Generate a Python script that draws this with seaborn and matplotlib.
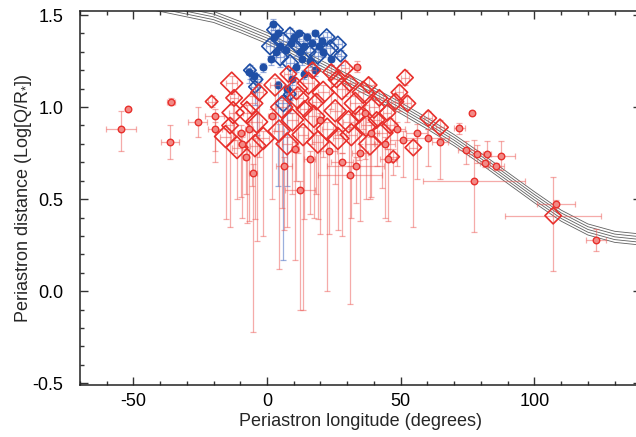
import numpy as np
import pandas as pd
import matplotlib
matplotlib.use("Agg")
import matplotlib.pyplot as plt
from matplotlib.ticker import MultipleLocator, FormatStrFormatter
import seaborn as sns

# ---------------- data ----------------
curve_lon = [-60, -50, -40, -30, -20, -10, 0, 10, 20, 30, 40, 50, 60, 70, 80, 90, 100, 110, 120, 130, 140]
curve_q1 = [1.62, 1.605, 1.58, 1.55, 1.52, 1.465, 1.405, 1.33, 1.255, 1.18, 1.105, 1.025, 0.94, 0.85, 0.75, 0.645, 0.54, 0.44, 0.365, 0.325, 0.31]
curve_q2 = [1.605, 1.59, 1.565, 1.535, 1.505, 1.45, 1.39, 1.315, 1.24, 1.165, 1.09, 1.01, 0.925, 0.835, 0.735, 0.63, 0.525, 0.425, 0.35, 0.31, 0.295]
curve_q3 = [1.59, 1.575, 1.55, 1.52, 1.49, 1.435, 1.375, 1.30, 1.225, 1.15, 1.075, 0.995, 0.91, 0.82, 0.72, 0.615, 0.51, 0.41, 0.335, 0.295, 0.28]
curve_q4 = [1.575, 1.56, 1.535, 1.505, 1.475, 1.42, 1.36, 1.285, 1.21, 1.135, 1.06, 0.98, 0.895, 0.805, 0.705, 0.60, 0.495, 0.395, 0.32, 0.28, 0.265]
curve_q5 = [1.56, 1.545, 1.52, 1.49, 1.46, 1.405, 1.345, 1.27, 1.195, 1.12, 1.045, 0.965, 0.88, 0.79, 0.69, 0.585, 0.48, 0.38, 0.305, 0.265, 0.25]

red_lon = [-54.6, -52.1, -36.0, -36.3, -25.9, -20.7, -19.6, -19.4, -13.2, -12.3, -12.7, -15.5, -11.2, -13.8, -9.7, -9.5,
           -7.5, -5.7, -3.9, -1.4, -5.2, -4.5, -6.8, -3.0, -7.8,
           3.0, 5.5, 4.5, 7.5, 9.5, 11.5, 13.5, 15.5, 17.5, 19.0, 21.0, 22.5, 24.0, 25.5, 26.5, 28.0, 29.2, 8.0,
           12.3, 10.5, 2.0, 16.0, 6.5, 18.5, 14.0, 23.0, 20.0,
           30.5, 31.5, 33.0, 34.5, 36.0, 37.0, 38.5, 40.0, 41.0, 42.0, 43.0, 45.0, 46.0, 47.2, 48.0, 49.5, 51.6,
           52.5, 54.7, 60.3, 64.7, 33.5, 34.7, 33.2, 30.9, 45.4, 51.0, 39.0, 44.0, 36.5, 48.5, 56.0, 28.0,
           60.1, 64.7, 71.9, 76.7, 74.3, 78.4, 77.5, 82.2, 87.5, 81.5, 85.8,
           108.0, 107.0, 123.0,
           26.0, 31.0, 38.0, 11.0, 17.0]
red_q = [0.88, 0.99, 1.03, 0.81, 0.92, 1.03, 0.95, 0.88, 1.13, 1.05, 0.97, 0.84, 0.78, 0.90, 0.86, 0.80,
         0.97, 1.02, 0.92, 0.83, 0.64, 0.79, 0.88, 1.08, 0.73,
         1.12, 1.00, 0.87, 0.80, 0.93, 1.05, 0.85, 1.13, 0.95, 0.81, 1.08, 0.88, 1.19, 0.98, 0.83, 1.10, 1.21, 1.18,
         0.55, 0.77, 0.95, 0.72, 0.68, 1.03, 0.99, 0.76, 0.93,
         0.92, 0.85, 1.02, 0.96, 1.08, 0.90, 0.80, 1.00, 0.93, 1.05, 0.86, 0.97, 0.90, 0.73, 1.03, 1.08, 1.16,
         1.02, 0.78, 0.94, 0.89, 1.22, 0.75, 0.68, 0.63, 0.72, 0.82, 0.86, 0.80, 0.97, 0.88, 0.86, 0.70,
         0.83, 0.81, 0.885, 0.967, 0.765, 0.744, 0.60, 0.744, 0.736, 0.695, 0.678,
         0.474, 0.41, 0.28,
         1.15, 1.13, 1.12, 1.10, 1.20]
red_lon_err = [5.5, 0.0, 1.5, 3.4, 3.5, 1.2, 3.7, 2.5, 2.0, 1.5, 1.5, 2.0, 2.0, 1.5, 1.5, 1.5,
               1.5, 2.0, 2.0, 2.0, 1.5, 2.0, 1.5, 1.5, 1.0,
               2.0, 2.0, 2.0, 2.0, 2.0, 2.0, 2.0, 2.0, 2.0, 2.0, 2.0, 2.0, 1.5, 2.0, 2.0, 2.0, 1.5, 1.5,
               5.6, 1.5, 1.5, 2.0, 3.0, 1.5, 1.5, 3.0, 1.5,
               2.0, 2.0, 2.0, 1.5, 2.0, 2.0, 2.0, 2.0, 1.5, 1.5, 2.0, 1.5, 1.5, 1.5, 1.5, 1.5, 1.5,
               1.5, 1.5, 1.5, 1.5, 1.0, 3.0, 10.6, 12.0, 3.0, 5.0, 3.0, 4.0, 2.0, 3.0, 4.0, 4.0,
               8.0, 3.0, 2.0, 0.5, 3.0, 3.0, 19.0, 1.5, 5.3, 2.0, 3.0,
               7.0, 18.0, 3.8,
               2.0, 2.0, 2.0, 1.5, 1.5]
red_q_err_lo = [0.12, 0.0, 0.02, 0.09, 0.08, 0.03, 0.25, 0.12, 0.06, 0.30, 0.15, 0.45, 0.28, 0.55, 0.35, 0.40,
                0.60, 0.45, 0.65, 0.53, 0.86, 0.40, 0.50, 0.35, 0.20,
                0.25, 0.55, 0.75, 0.45, 0.40, 0.30, 0.95, 0.30, 0.55, 0.42, 0.35, 0.88, 0.20, 0.40, 0.50, 0.35, 0.15, 0.20,
                0.65, 0.60, 0.45, 0.30, 0.35, 0.50, 0.60, 0.45, 0.62,
                0.30, 0.45, 0.35, 0.25, 0.20, 0.40, 0.30, 0.20, 0.25, 0.15, 0.30, 0.20, 0.20, 0.10, 0.15, 0.10, 0.04,
                0.10, 0.43, 0.06, 0.06, 0.03, 0.37, 0.20, 0.70, 0.34, 0.20, 0.35, 0.40, 0.25, 0.20, 0.25, 0.40,
                0.15, 0.20, 0.03, 0.01, 0.075, 0.05, 0.28, 0.05, 0.077, 0.02, 0.02,
                0.02, 0.30, 0.06,
                0.30, 0.25, 0.20, 0.50, 0.40]
red_q_err_hi = [0.10, 0.0, 0.02, 0.09, 0.08, 0.03, 0.04, 0.04, 0.04, 0.04, 0.04, 0.04, 0.04, 0.04, 0.04, 0.04,
                0.04, 0.04, 0.04, 0.04, 0.05, 0.04, 0.04, 0.05, 0.04,
                0.04, 0.04, 0.04, 0.04, 0.04, 0.04, 0.04, 0.04, 0.04, 0.04, 0.04, 0.04, 0.04, 0.04, 0.04, 0.04, 0.04, 0.04,
                0.05, 0.04, 0.04, 0.04, 0.05, 0.04, 0.04, 0.05, 0.04,
                0.04, 0.04, 0.04, 0.04, 0.04, 0.04, 0.04, 0.04, 0.04, 0.04, 0.04, 0.04, 0.04, 0.04, 0.04, 0.04, 0.04,
                0.04, 0.04, 0.04, 0.04, 0.03, 0.05, 0.05, 0.05, 0.05, 0.05, 0.04, 0.04, 0.04, 0.04, 0.05, 0.05,
                0.05, 0.05, 0.03, 0.01, 0.05, 0.05, 0.22, 0.07, 0.077, 0.02, 0.02,
                0.02, 0.21, 0.06,
                0.04, 0.04, 0.04, 0.04, 0.04]
red_class = [0, 0, 0, 0, 0, 1, 0, 0, 3, 2, 3, 3, 3, 2, 0, 0,
             3, 3, 3, 3, 0, 3, 0, 2, 0,
             3, 3, 3, 3, 3, 3, 3, 3, 3, 3, 3, 3, 2, 3, 3, 3, 2, 2,
             0, 0, 0, 0, 0, 2, 2, 0, 0,
             3, 3, 3, 2, 3, 3, 3, 3, 2, 2, 3, 2, 2, 1, 2, 2, 2,
             2, 2, 2, 2, 0, 0, 0, 0, 0, 0, 0, 0, 0, 0, 0, 0,
             0, 0, 0, 0, 0, 0, 0, 0, 0, 0, 0,
             0, 2, 0,
             2, 2, 2, 3, 2]

blue_lon = [3.0, 1.1, 6.0, 8.6, 11.0, 13.5, 16.0, 22.3, 23.6, 19.0, 4.9, 8.6, -6.4, -3.9, -4.5, 6.1, 8.6, 26.5, 27.5, 2.2,
            2.5, 4.0, 5.0, 7.0, 9.0, 10.0, 12.0, 12.5, 14.0, 15.0, 17.0, 18.0, 19.5, 20.5, 21.0, 16.0, 13.0, 11.0,
            3.5, 1.5, -1.5, -5.0, -6.9, 14.0, 18.0, 9.5, 24.0, 4.0, 7.5]
blue_q = [1.42, 1.33, 1.36, 1.40, 1.33, 1.36, 1.30, 1.38, 1.32, 1.28, 1.27, 1.24, 1.20, 1.15, 1.11, 1.02, 1.07, 1.34, 1.28, 1.45,
          1.38, 1.40, 1.33, 1.31, 1.35, 1.38, 1.40, 1.30, 1.33, 1.38, 1.35, 1.40, 1.33, 1.36, 1.30, 1.25, 1.26, 1.22,
          1.30, 1.26, 1.22, 1.17, 1.19, 1.18, 1.20, 1.15, 1.26, 1.12, 1.10]
blue_lon_err = [1.5, 1.5, 1.5, 1.5, 1.5, 1.5, 1.5, 1.5, 1.5, 1.5, 1.5, 1.5, 1.5, 1.5, 1.5, 2.0, 1.5, 1.5, 1.5, 1.0,
                1.0, 1.0, 1.0, 1.0, 1.0, 1.0, 1.0, 1.0, 1.0, 1.0, 1.0, 1.0, 1.0, 1.0, 1.0, 1.0, 1.0, 1.0,
                1.0, 1.0, 1.0, 1.0, 1.0, 1.0, 1.0, 1.0, 1.0, 1.0, 1.0]
blue_q_err_lo = [0.05, 0.05, 0.05, 0.05, 0.05, 0.05, 0.05, 0.05, 0.05, 0.05, 0.05, 0.20, 0.05, 0.30, 0.10, 0.85, 0.10, 0.05, 0.05, 0.03,
                 0.03, 0.03, 0.03, 0.03, 0.03, 0.03, 0.03, 0.03, 0.03, 0.03, 0.03, 0.03, 0.03, 0.03, 0.03, 0.03, 0.03, 0.03,
                 0.03, 0.03, 0.03, 0.03, 0.06, 0.03, 0.03, 0.03, 0.03, 0.55, 0.53]
blue_q_err_hi = [0.03] * 20 + [0.02] * 29
blue_class = [2, 2, 2, 1, 1, 2, 1, 2, 2, 2, 2, 2, 1, 1, 1, 2, 1, 2, 1, 0,
              0, 0, 0, 0, 0, 0, 0, 0, 0, 0, 0, 0, 0, 0, 0, 0, 0, 0,
              0, 0, 0, 0, 0, 0, 0, 0, 0, 0, 0]

# ---------------- style ----------------
RED = "#e8302c"
BLUE = "#1f4fa6"
sns.set_theme(style="ticks")
plt.rcParams["font.family"] = ["Liberation Sans", "DejaVu Sans"]
plt.rcParams["mathtext.fontset"] = "custom"
plt.rcParams["mathtext.rm"] = "Liberation Sans"
plt.rcParams["mathtext.it"] = "Liberation Sans:italic"
plt.rcParams["axes.unicode_minus"] = False

fig = plt.figure(figsize=(6.36, 4.37), dpi=100)
ax = fig.add_axes([79.8 / 636, 1 - 385 / 437, (641.4 - 79.8) / 636, (385 - 11) / 437])

# theoretical curves
curves = pd.DataFrame({"lon": curve_lon * 5,
                       "q": curve_q1 + curve_q2 + curve_q3 + curve_q4 + curve_q5,
                       "curve": sum([[i] * len(curve_lon) for i in range(5)], [])})
sns.lineplot(data=curves, x="lon", y="q", units="curve", estimator=None, color="#606060",
             linewidth=0.6, ax=ax, zorder=1, legend=False)

size_map = {1: 40, 2: 70, 3: 125}


def draw_group(lon, q, lerr, qlo, qhi, cls, color, ecolor, zbase, small_face):
    ax.errorbar(lon, q, xerr=lerr, yerr=[qlo, qhi], fmt="none", ecolor=ecolor,
                elinewidth=0.9, capsize=2.2, capthick=0.9, zorder=zbase)
    df = pd.DataFrame({"lon": lon, "q": q, "cls": cls})
    dia = df[df["cls"] > 0]
    sml = df[df["cls"] == 0]
    sns.scatterplot(data=dia, x="lon", y="q", size="cls", sizes=size_map,
                    marker="D", facecolor="none", edgecolor=color, color=color,
                    linewidth=1.2, ax=ax, legend=False, zorder=zbase + 1)
    sns.scatterplot(data=sml, x="lon", y="q", marker="o", s=22,
                    facecolor=small_face, edgecolor=color, color=color,
                    linewidth=1.0, ax=ax, legend=False, zorder=zbase + 1)


draw_group(blue_lon, blue_q, blue_lon_err, blue_q_err_lo, blue_q_err_hi, blue_class,
           BLUE, (0.35, 0.48, 0.78, 0.6), 2, BLUE)
draw_group(red_lon, red_q, red_lon_err, red_q_err_lo, red_q_err_hi, red_class,
           RED, (0.93, 0.35, 0.33, 0.5), 4, "#f28a86")

ax.set_xlim(-70, 140)
ax.set_ylim(-0.51, 1.522)
ax.xaxis.set_major_locator(MultipleLocator(50))
ax.xaxis.set_minor_locator(MultipleLocator(10))
ax.yaxis.set_major_locator(MultipleLocator(0.5))
ax.yaxis.set_minor_locator(MultipleLocator(0.1))
ax.yaxis.set_major_formatter(FormatStrFormatter("%.1f"))
ax.tick_params(which="both", direction="in", top=True, right=True, color="#333333", width=1)
ax.tick_params(which="major", length=6, labelsize=13, labelcolor="black")
ax.tick_params(axis="y", which="major", pad=12)
ax.tick_params(axis="x", which="major", pad=6)
ax.tick_params(which="minor", length=3)
for s in ax.spines.values():
    s.set_linewidth(1.1)
    s.set_color("#222222")

ax.set_xlabel("Periastron longitude (degrees)", fontsize=13, labelpad=2)
ax.set_ylabel(r"Periastron distance (Log[Q/R$_{*}$])", fontsize=13, labelpad=-1)

fig.savefig("out.png", dpi=100)
